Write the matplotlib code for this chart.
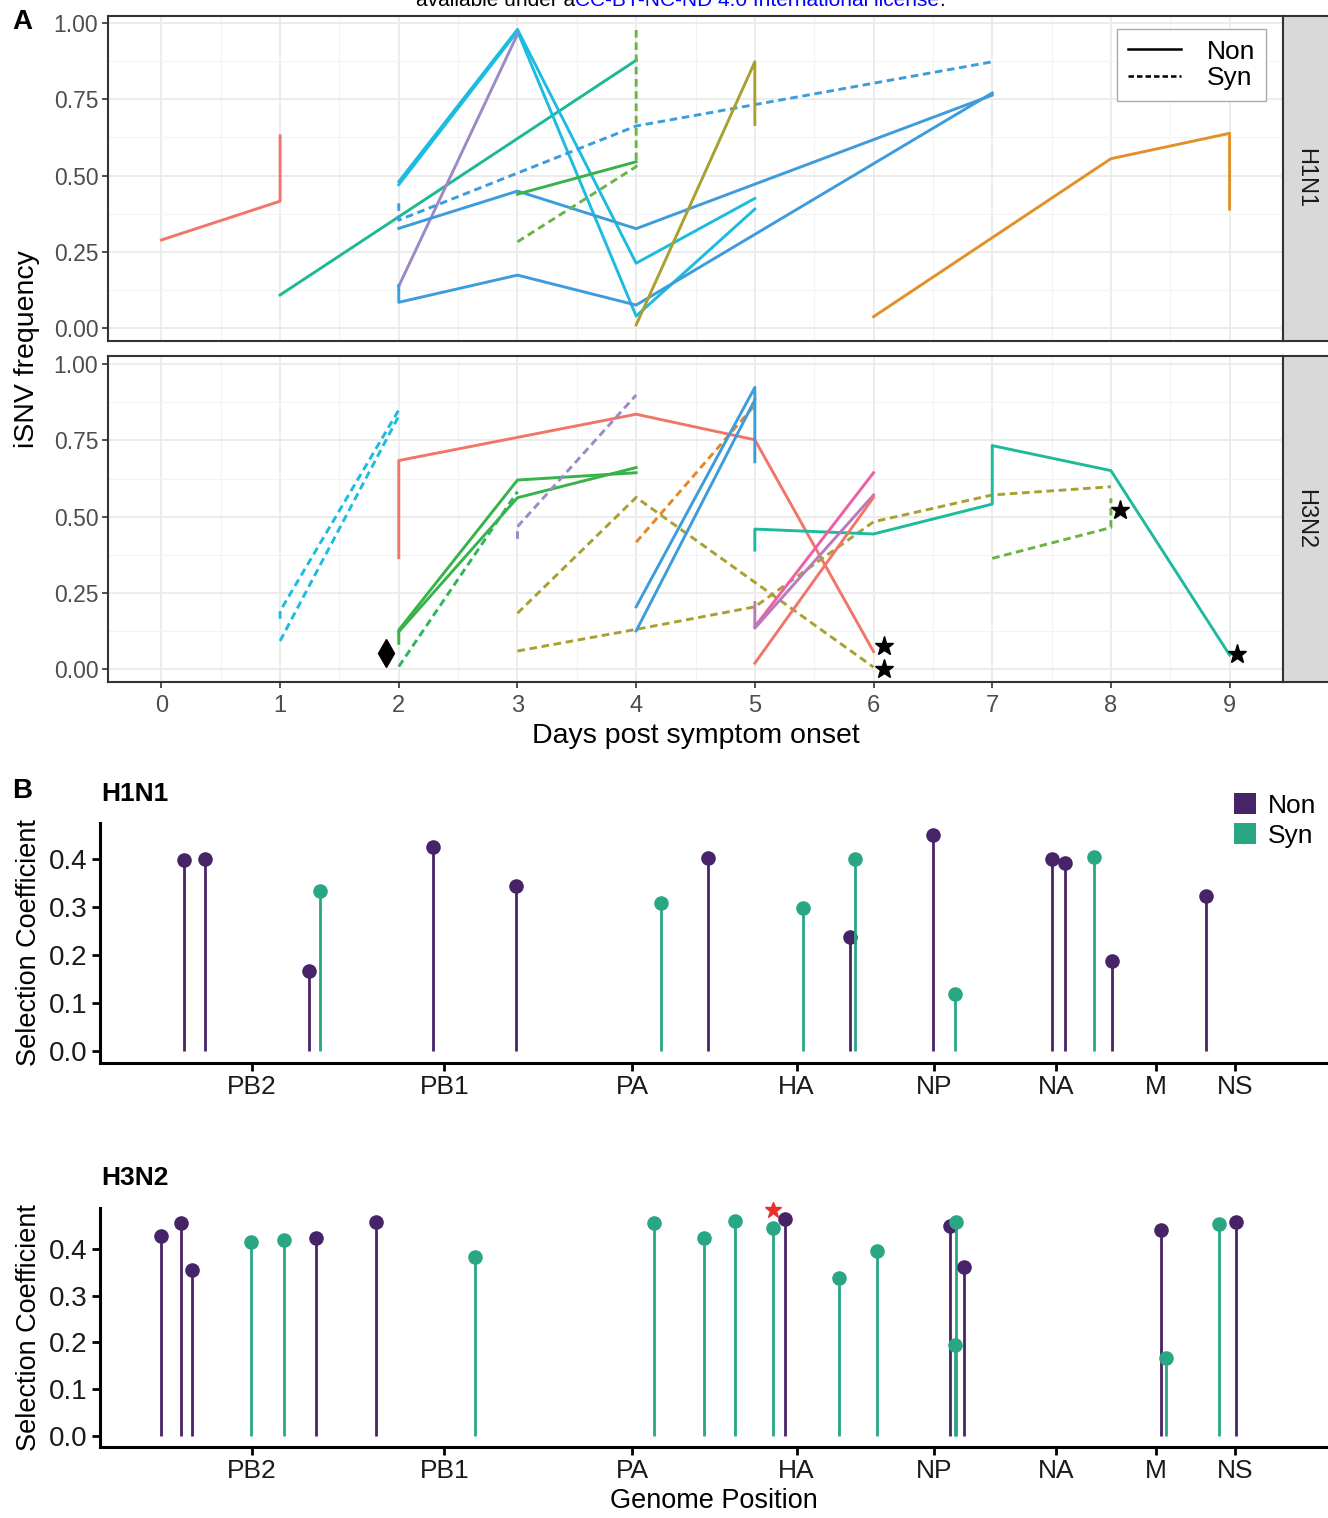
import numpy as np
import matplotlib
matplotlib.use("Agg")
import matplotlib.pyplot as plt
from matplotlib.lines import Line2D
from matplotlib.patches import Patch

plt.rcParams['font.family'] = ['Liberation Sans', 'DejaVu Sans']

# ---------------- data: panel A (iSNV frequency over days) ----------------
h1_days = [[0, 1, 1], [1, 4], [2, 3, 4, 5], [2, 3, 4, 5], [2, 3],
           [2, 3, 4, 7], [2, 2, 3, 4, 7], [2, 2, 4, 7], [3, 4], [3, 4, 4],
           [4, 5, 5], [6, 8, 9, 9]]
h1_freq = [[0.289, 0.416, 0.63], [0.109, 0.877], [0.48, 0.978, 0.213, 0.425],
           [0.47, 0.972, 0.04, 0.39], [0.138, 0.962],
           [0.327, 0.449, 0.326, 0.763], [0.14, 0.085, 0.174, 0.076, 0.77],
           [0.409, 0.354, 0.662, 0.872], [0.439, 0.545], [0.283, 0.529, 0.976],
           [0.011, 0.872, 0.667], [0.038, 0.555, 0.638, 0.39]]
h1_class = ["Non", "Non", "Non", "Non", "Non", "Non", "Non", "Syn", "Non", "Syn",
            "Non", "Non"]
h1_colors = ["#F2756A", "#1DB994", "#1BBCE0", "#1BBCE0", "#9C89C6", "#3D9CDB",
             "#3D9CDB", "#3D9CDB", "#37B34A", "#6AB344", "#A9A031", "#E1902A"]

h3_days = [[1, 1, 2], [1, 2], [2, 2, 4, 5, 6], [2, 2, 3, 4], [2, 3, 4], [2, 3],
           [3, 3, 4], [3, 4, 6], [3, 4, 5, 6, 7, 8], [4, 5], [4, 5, 5], [4, 5],
           [5, 5, 6, 7, 7, 8, 9], [5, 6], [5, 5, 6], [5, 6], [7, 8, 8]]
h3_freq = [[0.165, 0.19, 0.85], [0.092, 0.83], [0.365, 0.684, 0.836, 0.752, 0.057],
           [0.084, 0.128, 0.62, 0.644], [0.122, 0.562, 0.661], [0.008, 0.582],
           [0.427, 0.467, 0.899], [0.183, 0.563, 0.006],
           [0.059, 0.130, 0.204, 0.483, 0.571, 0.598], [0.416, 0.866],
           [0.204, 0.924, 0.68], [0.125, 0.883],
           [0.39, 0.459, 0.443, 0.541, 0.733, 0.651, 0.046], [0.139, 0.644],
           [0.218, 0.134, 0.571], [0.019, 0.563], [0.363, 0.464, 0.56]]
h3_class = ["Syn", "Syn", "Non", "Non", "Non", "Syn", "Syn", "Syn", "Syn", "Syn",
            "Non", "Non", "Non", "Non", "Non", "Non", "Syn"]
h3_colors = ["#1BBCE0", "#1BBCE0", "#F2756A", "#37B34A", "#37B34A", "#2DB55A",
             "#9C89C6", "#A9A031", "#A9A031", "#E8861F", "#3D9CDB", "#3D9CDB",
             "#1DBB9C", "#EE5FA3", "#B879BF", "#F2756A", "#6AB344"]

star_days = [6.09, 6.09, 8.08, 9.06]
star_freq = [0.075, 0.0, 0.522, 0.048]
diamond_day = [1.894]
diamond_freq = [0.051]

# ---------------- data: panel B (selection coefficients) ----------------
segments = ["PB2", "PB1", "PA", "HA", "NP", "NA", "M", "NS"]
segment_mid = [1170, 3511, 5798, 7804, 9475, 10964, 12184, 13143]

h1_pos = [339, 594, 1867, 2003, 3368, 4390, 6153, 6722, 7880, 8455, 8519,
          9471, 9734, 10915, 11067, 11425, 11641, 12795]
h1_sel = [0.397, 0.400, 0.167, 0.333, 0.425, 0.343, 0.309, 0.401, 0.297, 0.237,
          0.400, 0.449, 0.120, 0.399, 0.390, 0.403, 0.188, 0.322]
h1_type = ["Non", "Non", "Non", "Syn", "Non", "Non", "Syn", "Non", "Syn", "Non",
           "Syn", "Non", "Syn", "Non", "Non", "Syn", "Non", "Non"]

h3_pos = [62, 307, 442, 1160, 1563, 1949, 2678, 3880, 6071, 6674, 7048, 7512,
          7665, 8324, 8787, 9677, 9741, 9729, 9840, 12246, 12300, 12953, 13153]
h3_sel = [0.426, 0.455, 0.355, 0.414, 0.419, 0.422, 0.457, 0.382, 0.455, 0.422,
          0.458, 0.444, 0.462, 0.337, 0.394, 0.449, 0.456, 0.195, 0.361, 0.440,
          0.167, 0.453, 0.456]
h3_type = ["Non", "Non", "Non", "Syn", "Syn", "Non", "Non", "Syn", "Syn", "Syn",
           "Syn", "Syn", "Non", "Syn", "Syn", "Non", "Syn", "Syn", "Non", "Non",
           "Syn", "Syn", "Non"]
red_star_pos = [7512]
red_star_sel = [0.483]

type_colors = {"Non": "#472367", "Syn": "#29A785"}

# ---------------- figure ----------------
W, H = 1328, 1518
fig = plt.figure(figsize=(W / 100, H / 100), dpi=100)


def add_ax(l, t, r, b):
    return fig.add_axes([l / W, 1 - b / H, (r - l) / W, (b - t) / H])


def fx(px):
    return px / W


def fy(py):
    return 1 - py / H


# header text that is cut off at the top of the page
renderer = fig.canvas.get_renderer()
t1 = fig.text(fx(575), fy(1), "available under a", ha="right", va="center",
              fontsize=15)
t2 = fig.text(fx(575), fy(1), "CC-BY-NC-ND 4.0 International license", ha="left",
              va="center", fontsize=15, color="#0000FF")
bb = t2.get_window_extent(renderer)
fig.text(bb.x1 / W, fy(1), ".", ha="left", va="center", fontsize=15)


def freq_panel(ax, days, freqs, kinds, colors, ylim):
    ax.set_xlim(-0.45, 9.45)
    ax.set_ylim(*ylim)
    ax.set_xticks(range(10))
    ax.set_xticks(np.arange(0.5, 9, 1), minor=True)
    ax.set_yticks([0, 0.25, 0.5, 0.75, 1.0])
    ax.set_yticks([0.125, 0.375, 0.625, 0.875], minor=True)
    ax.yaxis.set_major_formatter(matplotlib.ticker.FormatStrFormatter("%.2f"))
    ax.grid(True, which="major", color="#EBEBEB", lw=1.3)
    ax.grid(True, which="minor", color="#F3F3F3", lw=0.8)
    ax.set_axisbelow(True)
    for s in ax.spines.values():
        s.set_color("#333333")
        s.set_linewidth(1.5)
    ax.tick_params(which="major", length=4, width=1.2, color="#333333",
                   labelsize=16.5, labelcolor="#4D4D4D", pad=3)
    ax.tick_params(which="minor", length=0)
    for d, f, k, c in zip(days, freqs, kinds, colors):
        if k == "Syn":
            ax.plot(d, f, color=c, lw=2.1, linestyle=(0, (2.6, 1.6)),
                    dash_capstyle="butt")
        else:
            ax.plot(d, f, color=c, lw=2.1)


def strip(t, b, label):
    sax = add_ax(1283, t, 1340, b)
    sax.set_facecolor("#D9D9D9")
    sax.set_xticks([])
    sax.set_yticks([])
    for s in sax.spines.values():
        s.set_color("#333333")
        s.set_linewidth(1.5)
    sax.text(0.39, 0.5, label, rotation=-90, ha="center", va="center",
             fontsize=17, color="#1A1A1A", transform=sax.transAxes)


axA1 = add_ax(108, 16, 1283, 341)
freq_panel(axA1, h1_days, h1_freq, h1_class, h1_colors, (-0.0416, 1.022))
axA1.tick_params(axis="x", labelbottom=False, length=0)
strip(16, 341, "H1N1")

axA2 = add_ax(108, 356, 1283, 682)
freq_panel(axA2, h3_days, h3_freq, h3_class, h3_colors, (-0.0427, 1.027))
axA2.tick_params(axis="x", labelsize=17, pad=5)
axA2.plot(star_days, star_freq, linestyle="none", marker="*", color="black",
          markersize=14, clip_on=False)
axA2.plot(diamond_day, diamond_freq, linestyle="none", marker="d", color="black",
          markersize=14)
strip(356, 682, "H3N2")

axA2.set_xlabel("Days post symptom onset", fontsize=20.5, labelpad=5)
fig.text(fx(27), fy(349), "iSNV frequency", rotation=90, ha="center",
         va="center", fontsize=20.5)

leg_handles = [Line2D([], [], color="black", lw=1.8),
               Line2D([], [], color="black", lw=1.8, linestyle=(0, (2.2, 1.2)))]
axA1.legend(leg_handles, ["Non", "Syn"], loc="upper right",
            bbox_to_anchor=(fx(1266), fy(29)), bbox_transform=fig.transFigure,
            fontsize=19, frameon=True, fancybox=False, edgecolor="#AAAAAA",
            framealpha=1, handlelength=2.0, labelspacing=0.1, borderpad=0.4,
            handletextpad=1.0, borderaxespad=0)

fig.text(fx(22), fy(22), "A", fontsize=20, fontweight="bold", ha="center",
         va="center")
fig.text(fx(22), fy(791), "B", fontsize=20, fontweight="bold", ha="center",
         va="center")


def lollipop(ax, pos, sel, types, ylim):
    ax.set_xlim(-683, 14277)
    ax.set_ylim(*ylim)
    for p, s, t in zip(pos, sel, types):
        c = type_colors[t]
        ax.plot([p, p], [0, s], color=c, lw=2.0, solid_capstyle="butt")
        ax.plot([p], [s], marker="o", color=c, markersize=10.5,
                markeredgewidth=0, clip_on=False)
    ax.set_xticks(segment_mid)
    ax.set_xticklabels(segments)
    ax.set_yticks([0, 0.1, 0.2, 0.3, 0.4])
    ax.yaxis.set_major_formatter(matplotlib.ticker.FormatStrFormatter("%.1f"))
    for side in ["top", "right"]:
        ax.spines[side].set_visible(False)
    for side in ["left", "bottom"]:
        ax.spines[side].set_linewidth(2.2)
        ax.spines[side].set_color("black")
    ax.tick_params(axis="y", length=6, width=2, color="black", labelsize=20,
                   labelcolor="#1A1A1A", pad=3)
    ax.tick_params(axis="x", length=6, width=2, color="black", labelsize=19,
                   labelcolor="#1A1A1A", pad=3)
    ax.set_facecolor("none")


axB1 = add_ax(100, 823, 1328, 1063)
lollipop(axB1, h1_pos, h1_sel, h1_type, (-0.0241, 0.474))
axB1.set_ylabel("Selection Coefficient", fontsize=19.5, labelpad=5)
fig.text(fx(101), fy(794), "H1N1", fontsize=19, fontweight="bold", ha="left",
         va="center")

axB2 = add_ax(100, 1208, 1328, 1447)
lollipop(axB2, h3_pos, h3_sel, h3_type, (-0.0228, 0.4865))
axB2.plot(red_star_pos, red_star_sel, linestyle="none", marker="*",
          color="#E8302A", markersize=12, clip_on=False)
axB2.set_ylabel("Selection Coefficient", fontsize=19.5, labelpad=5)
axB2.set_xlabel("Genome Position", fontsize=19.5, labelpad=3)
fig.text(fx(101), fy(1178), "H3N2", fontsize=19, fontweight="bold", ha="left",
         va="center")

b_handles = [Patch(facecolor=type_colors["Non"]), Patch(facecolor=type_colors["Syn"])]
axB1.legend(b_handles, ["Non", "Syn"], loc="upper left",
            bbox_to_anchor=(fx(1234), fy(793)), bbox_transform=fig.transFigure,
            frameon=False, fontsize=19, handlelength=0.85, handleheight=0.85,
            handletextpad=0.45, labelspacing=0.2, borderaxespad=0, borderpad=0)

fig.savefig("out.png", dpi=100)
